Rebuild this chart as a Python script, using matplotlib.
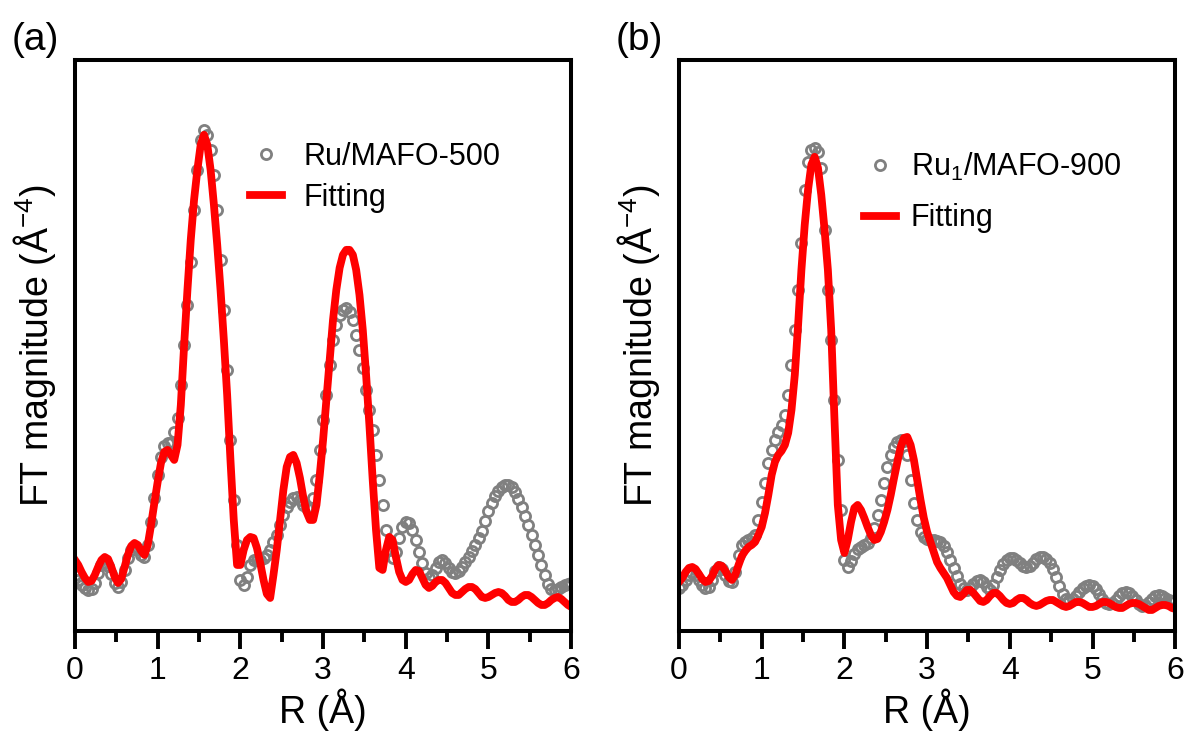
import numpy as np
import matplotlib
matplotlib.use("Agg")
import matplotlib.pyplot as plt
from matplotlib.ticker import MultipleLocator

plt.rcParams['font.family'] = ['Liberation Sans', 'DejaVu Sans']
plt.rcParams['mathtext.fontset'] = 'custom'
plt.rcParams['mathtext.rm'] = 'Liberation Sans'

# R grid (Å), 0.04 Å step
r = np.round(np.arange(0, 6.0001, 0.04), 2)

# (a) Ru/MAFO-500 experimental and fit
data_a = [
    0.56, 0.51, 0.46, 0.43, 0.41, 0.42, 0.48, 0.58, 0.66, 0.68,
    0.65, 0.57, 0.48, 0.44, 0.49, 0.61, 0.73, 0.81, 0.84, 0.82,
    0.76, 0.74, 0.86, 1.09, 1.33, 1.56, 1.74, 1.85, 1.88, 1.88,
    1.99, 2.13, 2.46, 2.86, 3.26, 3.69, 4.21, 4.61, 4.91, 5.01,
    4.96, 4.81, 4.56, 4.21, 3.71, 3.21, 2.61, 1.91, 1.31, 0.86,
    0.51, 0.46, 0.54, 0.66, 0.71, 0.71, 0.71, 0.73, 0.76, 0.81,
    0.89, 0.96, 1.06, 1.16, 1.24, 1.29, 1.33, 1.34, 1.31, 1.26,
    1.23, 1.23, 1.33, 1.51, 1.81, 2.11, 2.36, 2.66, 2.91, 3.06,
    3.16, 3.21, 3.23, 3.19, 3.11, 2.96, 2.81, 2.63, 2.41, 2.21,
    2.01, 1.76, 1.51, 1.26, 1.01, 0.81, 0.73, 0.79, 0.93, 1.04,
    1.09, 1.08, 1.01, 0.91, 0.79, 0.68, 0.58, 0.53, 0.56, 0.63,
    0.69, 0.71, 0.68, 0.63, 0.59, 0.58, 0.60, 0.64, 0.69, 0.74,
    0.80, 0.86, 0.93, 1.00, 1.10, 1.20, 1.28, 1.35, 1.40, 1.44,
    1.46, 1.46, 1.44, 1.39, 1.32, 1.24, 1.15, 1.06, 0.96, 0.86,
    0.76, 0.66, 0.56, 0.47, 0.42, 0.41, 0.42, 0.44, 0.46, 0.47,
    0.48,
]
fit_a = [
    0.71, 0.66, 0.59, 0.53, 0.49, 0.50, 0.56, 0.64, 0.71, 0.74,
    0.72, 0.64, 0.54, 0.48, 0.52, 0.64, 0.76, 0.85, 0.88, 0.86,
    0.80, 0.76, 0.86, 1.06, 1.28, 1.49, 1.68, 1.79, 1.81, 1.76,
    1.71, 1.86, 2.26, 2.86, 3.41, 3.91, 4.31, 4.61, 4.86, 4.96,
    4.86, 4.61, 4.26, 3.86, 3.41, 2.91, 2.36, 1.71, 1.11, 0.66,
    0.66, 0.81, 0.91, 0.94, 0.93, 0.83, 0.68, 0.51, 0.37, 0.33,
    0.56, 0.81, 1.11, 1.41, 1.64, 1.74, 1.76, 1.68, 1.53, 1.34,
    1.19, 1.11, 1.11, 1.26, 1.56, 1.91, 2.31, 2.71, 3.11, 3.41,
    3.63, 3.76, 3.81, 3.81, 3.76, 3.61, 3.36, 3.01, 2.56, 2.06,
    1.51, 1.01, 0.63, 0.61, 0.81, 0.94, 0.91, 0.74, 0.59, 0.51,
    0.49, 0.51, 0.57, 0.61, 0.60, 0.53, 0.46, 0.43, 0.45, 0.49,
    0.51, 0.51, 0.48, 0.43, 0.38, 0.36, 0.36, 0.39, 0.42, 0.44,
    0.44, 0.42, 0.38, 0.34, 0.33, 0.34, 0.36, 0.38, 0.39, 0.38,
    0.35, 0.31, 0.29, 0.29, 0.31, 0.34, 0.36, 0.36, 0.34, 0.31,
    0.28, 0.26, 0.26, 0.28, 0.31, 0.33, 0.34, 0.32, 0.29, 0.26,
    0.24,
]

# (b) Ru1/MAFO-900 experimental and fit
data_b = [
    0.43, 0.46, 0.51, 0.56, 0.58, 0.56, 0.51, 0.46, 0.43, 0.44,
    0.51, 0.60, 0.64, 0.62, 0.56, 0.50, 0.49, 0.59, 0.76, 0.86,
    0.89, 0.91, 0.93, 0.96, 1.11, 1.29, 1.48, 1.68, 1.81, 1.91,
    1.99, 2.06, 2.16, 2.36, 2.66, 3.01, 3.41, 3.88, 4.41, 4.69,
    4.81, 4.83, 4.79, 4.63, 4.01, 3.41, 2.91, 2.31, 1.71, 1.21,
    0.71, 0.64, 0.70, 0.77, 0.82, 0.84, 0.86, 0.88, 0.93, 1.03,
    1.16, 1.31, 1.48, 1.64, 1.76, 1.84, 1.89, 1.91, 1.90, 1.76,
    1.51, 1.28, 1.11, 0.99, 0.94, 0.92, 0.91, 0.91, 0.90, 0.89,
    0.85, 0.79, 0.71, 0.63, 0.55, 0.47, 0.43, 0.41, 0.43, 0.47,
    0.50, 0.51, 0.49, 0.44, 0.41, 0.46, 0.54, 0.61, 0.67, 0.71,
    0.73, 0.73, 0.71, 0.68, 0.65, 0.64, 0.65, 0.68, 0.72, 0.74,
    0.74, 0.72, 0.68, 0.62, 0.54, 0.45, 0.37, 0.32, 0.31, 0.32,
    0.35, 0.39, 0.43, 0.45, 0.46, 0.45, 0.42, 0.37, 0.32, 0.28,
    0.27, 0.28, 0.31, 0.35, 0.38, 0.39, 0.38, 0.35, 0.31, 0.27,
    0.25, 0.26, 0.29, 0.32, 0.35, 0.36, 0.35, 0.33, 0.31, 0.30,
    0.30,
]
fit_b = [
    0.49, 0.53, 0.59, 0.63, 0.64, 0.62, 0.57, 0.52, 0.49, 0.50,
    0.55, 0.62, 0.66, 0.65, 0.60, 0.54, 0.51, 0.56, 0.66, 0.75,
    0.80, 0.84, 0.86, 0.89, 0.96, 1.04, 1.18, 1.36, 1.56, 1.69,
    1.76, 1.80, 1.86, 1.98, 2.21, 2.56, 3.06, 3.61, 4.06, 4.41,
    4.66, 4.74, 4.63, 4.36, 4.01, 3.61, 3.01, 2.11, 1.26, 0.91,
    0.78, 0.91, 1.09, 1.23, 1.26, 1.21, 1.13, 1.04, 0.96, 0.91,
    0.92, 0.99, 1.09, 1.21, 1.36, 1.53, 1.69, 1.84, 1.93, 1.94,
    1.86, 1.71, 1.51, 1.31, 1.13, 0.99, 0.89, 0.79, 0.69, 0.63,
    0.58, 0.53, 0.46, 0.39, 0.35, 0.34, 0.37, 0.41, 0.41, 0.38,
    0.34, 0.30, 0.29, 0.31, 0.35, 0.38, 0.38, 0.35, 0.31, 0.28,
    0.27, 0.28, 0.31, 0.33, 0.33, 0.31, 0.28, 0.26, 0.25, 0.26,
    0.28, 0.30, 0.31, 0.31, 0.29, 0.27, 0.25, 0.24, 0.25, 0.27,
    0.29, 0.29, 0.28, 0.26, 0.24, 0.24, 0.25, 0.27, 0.29, 0.29,
    0.28, 0.26, 0.24, 0.23, 0.23, 0.25, 0.27, 0.28, 0.28, 0.27,
    0.25, 0.23, 0.21, 0.21, 0.23, 0.25, 0.26, 0.26, 0.25, 0.23,
    0.22,
]

# tag, legend name, data, fit, axes left, legend anchor, legend row spacing, text pad
panels = [
    ('(a)', 'Ru/MAFO-500', data_a, fit_a, 0.063, (0.353, 0.856), 0.35, 0.7),
    ('(b)', 'Ru$_1$/MAFO-900', data_b, fit_b, 0.5706, (0.372, 0.841), 0.68, 0.5),
]

fig = plt.figure(figsize=(11.9, 7.38), dpi=100)

for tag, name, dat, fit, left, anchor, spacing, tpad in panels:
    ax = fig.add_axes([left, 0.145, 0.417, 0.774])
    ax.plot(r, dat, 'o', ms=7.3, mfc='none', mec='#808080', mew=2.0, label=name)
    ax.plot(r, fit, '-', color='#ff0000', lw=5.6, label='Fitting')
    ax.set_xlim(0, 6)
    ax.set_ylim(0, 5.71)
    ax.xaxis.set_major_locator(MultipleLocator(1))
    ax.xaxis.set_minor_locator(MultipleLocator(0.5))
    ax.tick_params(axis='x', which='major', direction='out', length=13, width=2.8,
                   labelsize=23, pad=5, top=False)
    ax.tick_params(axis='x', which='minor', direction='out', length=8, width=2.8, top=False)
    ax.tick_params(axis='y', which='both', left=False, right=False, labelleft=False)
    for s in ax.spines.values():
        s.set_linewidth(2.9)
    ax.set_xlabel('R (Å)', fontsize=27, labelpad=2)
    ax.set_ylabel('FT magnitude (Å$^{-4}$)', fontsize=27, labelpad=12)
    ax.legend(loc='upper left', bbox_to_anchor=anchor, frameon=False,
              fontsize=22, handlelength=1.05, handletextpad=tpad, labelspacing=spacing,
              borderaxespad=0, borderpad=0, numpoints=1)
    fig.text(left - 0.033, 0.946, tag, fontsize=28, ha='center', va='center')

fig.savefig('out.png', dpi=100)
